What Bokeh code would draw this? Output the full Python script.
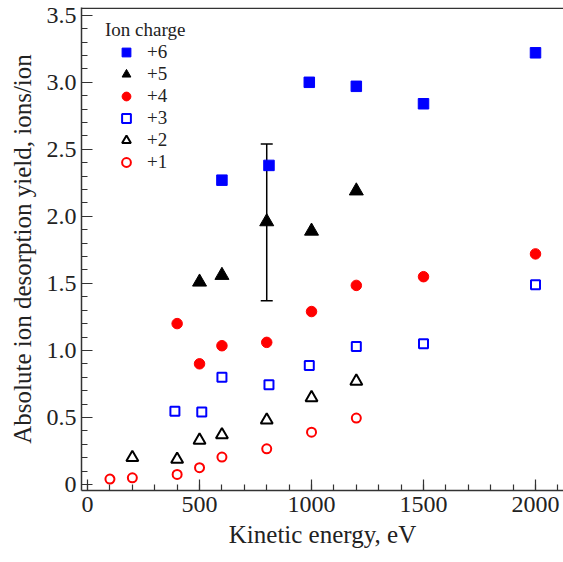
from bokeh.plotting import figure
from bokeh.models import (Range1d, SingleIntervalTicker, Legend, LegendItem, Whisker,
                          ColumnDataSource, Span, TeeHead)
from bokeh.embed import file_html
from bokeh.resources import INLINE

# ---- data ----
x6 = [600, 810, 990, 1200, 1500, 2000]
y6 = [2.27, 2.38, 3.00, 2.97, 2.84, 3.22]
x5 = [500, 600, 800, 1000, 1200]
y5 = [1.51, 1.56, 1.96, 1.89, 2.19]
x4 = [400, 500, 600, 800, 1000, 1200, 1500, 2000]
y4 = [1.20, 0.90, 1.035, 1.06, 1.29, 1.485, 1.55, 1.72]
x3 = [390, 510, 600, 810, 990, 1200, 1500, 2000]
y3 = [0.547, 0.54, 0.80, 0.744, 0.888, 1.03, 1.05, 1.49]
x2 = [200, 400, 500, 600, 800, 1000, 1200]
y2 = [0.20, 0.187, 0.33, 0.37, 0.48, 0.647, 0.77]
x1 = [100, 200, 400, 500, 600, 800, 1000, 1200]
y1 = [0.04, 0.05, 0.075, 0.125, 0.204, 0.266, 0.39, 0.495]
err_x = [800]
err_lo = [1.37]
err_hi = [2.54]
labels = ["+6", "+5", "+4", "+3", "+2", "+1"]

FONT = "Liberation Serif"
TXT = "#222222"
AX = "#333333"
Y_TOP = 3.552

p = figure(width=563, height=562, output_backend="svg", toolbar_location=None,
           x_range=Range1d(-27, 2125), y_range=Range1d(-0.045, Y_TOP + 0.006),
           min_border_left=81, min_border_right=0, min_border_top=7, min_border_bottom=72)
p.outline_line_color = None
p.grid.visible = False
p.background_fill_color = "white"

# axes
p.xaxis.ticker = SingleIntervalTicker(interval=500, num_minor_ticks=5)
p.yaxis.ticker = SingleIntervalTicker(interval=0.5, num_minor_ticks=5)
p.yaxis.major_label_overrides = {0: "0", 0.5: "0.5", 1: "1.0", 1.5: "1.5", 2: "2.0",
                                 2.5: "2.5", 3: "3.0", 3.5: "3.5"}
for ax in (p.xaxis[0], p.yaxis[0]):
    ax.axis_line_color = AX
    ax.axis_line_width = 1.5
    ax.major_tick_line_color = AX
    ax.minor_tick_line_color = AX
    ax.major_tick_line_width = 1.2
    ax.minor_tick_line_width = 1.2
    ax.major_tick_in = 11
    ax.major_tick_out = 0
    ax.minor_tick_in = 6
    ax.minor_tick_out = 0
    ax.major_label_text_font = FONT
    ax.major_label_text_font_size = "24px"
    ax.major_label_text_color = TXT
    ax.axis_label_text_font = FONT
    ax.axis_label_text_font_size = "25px"
    ax.axis_label_text_font_style = "normal"
    ax.axis_label_text_color = TXT
p.xaxis.axis_label = "Kinetic energy, eV"
p.yaxis.axis_label = "Absolute ion desorption yield, ions/ion"
p.xaxis.major_label_standoff = 6
p.yaxis.major_label_standoff = 5
p.xaxis.axis_label_standoff = 6
p.yaxis.axis_label_standoff = 8

# top frame line
p.add_layout(Span(location=Y_TOP, dimension="width", line_color=AX, line_width=1.5))

# error bar
esrc = ColumnDataSource(dict(x=err_x, lo=err_lo, hi=err_hi))
p.add_layout(Whisker(source=esrc, base="x", lower="lo", upper="hi", line_color="black",
                     line_width=1.5,
                     lower_head=TeeHead(size=12, line_color="black", line_width=1.5),
                     upper_head=TeeHead(size=12, line_color="black", line_width=1.5)))

BLUE = "#0000ff"
RED = "#ff0000"
r6 = p.scatter(x6, y6, marker="square", size=10.5, fill_color=BLUE, line_color=BLUE, line_width=1)
r5 = p.scatter(x5, y5, marker="triangle", size=14, fill_color="black", line_color="black")
r4 = p.scatter(x4, y4, marker="circle", size=10.5, fill_color=RED, line_color=RED)
r3 = p.scatter(x3, y3, marker="square", size=9, fill_color=None, line_color=BLUE, line_width=2)
r2 = p.scatter(x2, y2, marker="triangle", size=12, fill_color=None, line_color="black", line_width=2)
r1 = p.scatter(x1, y1, marker="circle", size=9, fill_color=None, line_color=RED, line_width=2)

legend = Legend(items=[LegendItem(label=l, renderers=[r]) for l, r in
                       zip(labels, [r6, r5, r4, r3, r2, r1])],
                title="Ion charge", location=(24, 317))
legend.title_text_font = FONT
legend.title_text_font_size = "19px"
legend.title_text_font_style = "normal"
legend.title_text_color = TXT
legend.title_standoff = 0
legend.label_text_font = FONT
legend.label_text_font_size = "19px"
legend.label_text_color = TXT
legend.glyph_width = 42
legend.glyph_height = 22
legend.label_height = 21
legend.label_standoff = 0
legend.spacing = 0
legend.padding = 0
legend.margin = 0
legend.border_line_color = None
legend.background_fill_alpha = 0
p.add_layout(legend)

open("out.html", "w").write(file_html(p, INLINE))
